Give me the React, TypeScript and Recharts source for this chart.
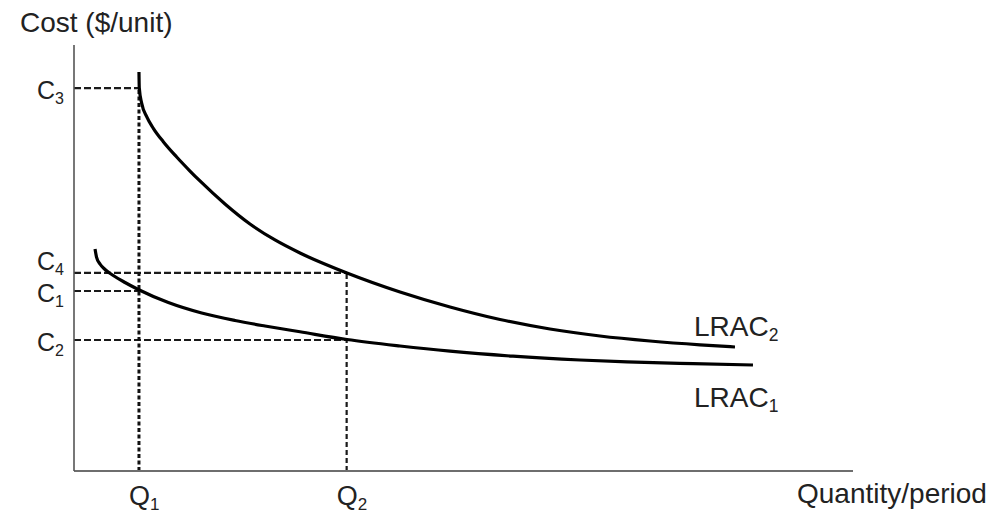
import React from 'react';
import { LineChart, Line, XAxis, YAxis, ReferenceLine, LabelList } from 'recharts';

// Quantity (0-100 scale) and cost (0-100 scale) readings
const Q1 = 8.34;
const Q2 = 35.0;
const C3 = 89.9;
const C4 = 46.5;
const C1 = 42.25;
const C2 = 30.75;

const xTickValues = [Q1, Q2];
const xTickLabels = ['Q1', 'Q2'];
const yTickValues = [C2, C1, C4, C3];
const yTickLabels = ['C2', 'C1', 'C4', 'C3'];

const lrac2Q = [8.34, 8.38, 8.69, 9.33, 10.18, 11.46, 13.18, 14.89, 16.17, 19.38, 22.59, 25.8, 29.01, 35.04, 41.85, 48.27, 54.69, 61.1, 67.52, 73.94, 80.36, 84.85];
const lrac2C = [93.66, 89.91, 86.31, 83.17, 80.45, 77.3, 73.71, 70.42, 68.08, 62.68, 57.98, 54.23, 51.17, 46.48, 42.02, 38.5, 35.56, 33.33, 31.69, 30.52, 29.62, 29.11];

const lrac1Q = [2.7, 2.89, 3.34, 3.98, 5.04, 6.55, 8.25, 12.11, 16.39, 20.67, 24.52, 29.01, 35.04, 41.85, 48.27, 56.35, 64.96, 70.99, 79.46, 87.16];
const lrac1C = [52.11, 50.23, 48.59, 47.3, 45.89, 44.25, 42.61, 39.55, 37.09, 35.33, 34.04, 32.68, 30.87, 29.34, 28.12, 26.95, 26.06, 25.61, 25.21, 24.88];

const lrac2 = lrac2Q.map((q, i) => ({ q, c: lrac2C[i] }));
const lrac1 = lrac1Q.map((q, i) => ({ q, c: lrac1C[i] }));

const FONT = '"Liberation Sans", Arial, Helvetica, sans-serif';
const TEXT = '#222';
const BIG = 28;
const SMALL = 17.5;

const SubText = ({ x, y, main, sub, anchor = 'start', size = BIG, subSize = SMALL }: any) => (
  <text x={x} y={y} textAnchor={anchor} fontFamily={FONT} fontSize={size} fill={TEXT}>
    <tspan>{main}</tspan>
    <tspan fontSize={subSize} dy={5}>{sub}</tspan>
  </text>
);

const YTick = (props: any) => {
  const { x, y, payload } = props;
  const i = yTickValues.indexOf(payload.value);
  const label = yTickLabels[i] || '';
  const dy = label === 'C4' ? -2.5 : 11;
  return <SubText x={x} y={y + dy} main={label[0]} sub={label.slice(1)} anchor="end" size={25} subSize={16} />;
};

const XTick = (props: any) => {
  const { x, y, payload } = props;
  const i = xTickValues.indexOf(payload.value);
  const label = xTickLabels[i] || '';
  return <SubText x={x - 10} y={y + 34} main={label[0]} sub={label.slice(1)} size={27} subSize={17} />;
};

const dashH = { stroke: '#1a1a1a', strokeWidth: 2.2, strokeDasharray: '7 3' };

export default function App() {
  return (
    <div style={{ position: 'absolute', left: 0, top: 0, background: '#fff' }}>
      <LineChart width={994} height={528} margin={{ top: 45, right: 141, bottom: 0, left: 0 }}>
        <XAxis
          type="number"
          dataKey="q"
          domain={[0, 100]}
          ticks={xTickValues}
          interval={0}
          tick={<XTick />}
          tickLine={false}
          tickSize={0}
          tickMargin={0}
          height={57}
          axisLine={{ stroke: '#6e6e6e', strokeWidth: 2 }}
          allowDataOverflow
        />
        <YAxis
          type="number"
          dataKey="c"
          domain={[0, 100]}
          ticks={yTickValues}
          interval={0}
          tick={<YTick />}
          tickLine={false}
          tickSize={0}
          tickMargin={10}
          width={74}
          axisLine={{ stroke: '#555', strokeWidth: 1.6 }}
          allowDataOverflow
        />
        <ReferenceLine segment={[{ x: 0, y: C3 }, { x: Q1, y: C3 }]} {...dashH} />
        <ReferenceLine segment={[{ x: 0, y: C4 }, { x: Q2, y: C4 }]} {...dashH} />
        <ReferenceLine segment={[{ x: 0, y: C1 }, { x: Q1, y: C1 }]} {...dashH} />
        <ReferenceLine segment={[{ x: 0, y: C2 }, { x: Q2, y: C2 }]} {...dashH} />
        <ReferenceLine segment={[{ x: Q1, y: 0 }, { x: Q1, y: C3 }]} stroke="#111" strokeWidth={3} strokeDasharray="4 2.5" />
        <ReferenceLine segment={[{ x: Q2, y: 0 }, { x: Q2, y: C4 }]} stroke="#1a1a1a" strokeWidth={2.2} strokeDasharray="5 3" />
        <Line
          data={lrac2}
          dataKey="c"
          type="monotone"
          stroke="#000"
          strokeWidth={3.2}
          dot={false}
          activeDot={false}
          isAnimationActive={false}
        >
          <LabelList
            dataKey="c"
            content={(p: any) =>
              p.index === lrac2.length - 1 ? (
                <SubText x={p.x - 41} y={p.y - 11} main="LRAC" sub="2" />
              ) : (
                <g />
              )
            }
          />
        </Line>
        <Line
          data={lrac1}
          dataKey="c"
          type="monotone"
          stroke="#000"
          strokeWidth={3.2}
          dot={false}
          activeDot={false}
          isAnimationActive={false}
        >
          <LabelList
            dataKey="c"
            content={(p: any) =>
              p.index === lrac1.length - 1 ? (
                <SubText x={p.x - 59} y={p.y + 42} main="LRAC" sub="1" />
              ) : (
                <g />
              )
            }
          />
        </Line>
        <text x={20} y={32} fontFamily={FONT} fontSize={BIG} fill={TEXT}>Cost ($/unit)</text>
        <text x={797} y={503} fontFamily={FONT} fontSize={BIG} fill={TEXT}>Quantity/period</text>
      </LineChart>
    </div>
  );
}
